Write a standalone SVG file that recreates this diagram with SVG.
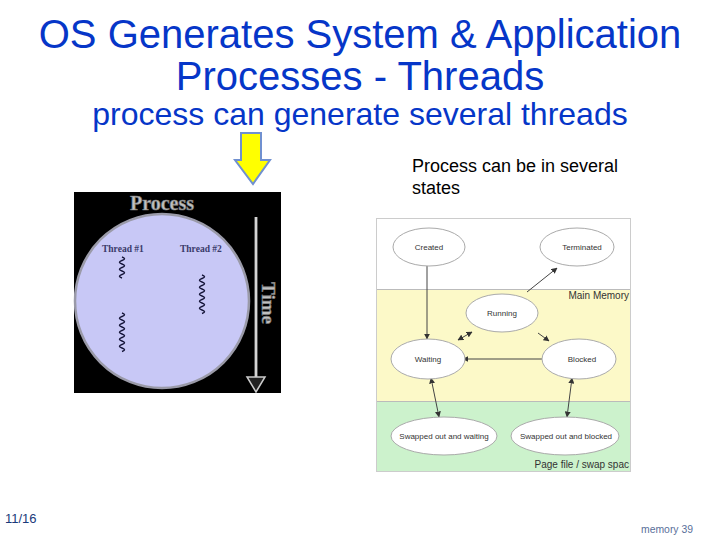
<svg xmlns="http://www.w3.org/2000/svg" width="720" height="540" viewBox="0 0 720 540">
<style>
.title{font-family:"Liberation Sans",Arial,sans-serif;fill:#0636c8;text-anchor:middle}
.note{font-family:"Liberation Sans",Arial,sans-serif;fill:#000;font-size:18px}
.st{font-family:"Liberation Sans",Arial,sans-serif;font-size:8px;fill:#333;text-anchor:middle}
.zone{font-family:"Liberation Sans",Arial,sans-serif;font-size:10px;fill:#333;text-anchor:end}
.ell{fill:#fff;stroke:#aaa;stroke-width:1}
.con{stroke:#444;stroke-width:1;fill:none}
.thr{font-family:"Liberation Serif","Times New Roman",serif;font-weight:bold;font-size:9.5px;fill:#3a3a6a}
.sq{fill:none;stroke:#141438;stroke-width:1.5}
</style>
<defs>
<marker id="ah" viewBox="0 0 10 10" refX="9" refY="5" markerWidth="6" markerHeight="6" orient="auto-start-reverse" markerUnits="userSpaceOnUse">
<path d="M0,0 L10,5 L0,10 z" fill="#333"/>
</marker>
</defs>
<rect width="720" height="540" fill="#fff"/>
<g id="title">
<text class="title" x="360" y="48" font-size="40">OS Generates System &amp; Application</text>
<text class="title" x="360" y="90" font-size="40">Processes - Threads</text>
<text class="title" x="360" y="125" font-size="32">process can generate several threads</text>
</g>
<g id="yellow-arrow">
<path d="M241,133 H261 V160 H270 L253,184 L235,160 H241 Z" fill="#ffff00" stroke="#7090d0" stroke-width="2" stroke-linejoin="miter"/>
</g>
<g id="process-picture">
<rect x="74" y="192" width="207" height="201" fill="#000"/>
<circle cx="162" cy="301" r="87" fill="#c8c8f6" stroke="#9a9aa8" stroke-width="2.5"/>
<text x="162" y="210" font-family="'Liberation Serif','Times New Roman',serif" font-weight="bold" font-size="20" fill="#c0c0c0" stroke="#777" stroke-width="0.6" text-anchor="middle">Process</text>
<text class="thr" x="102" y="252">Thread #1</text>
<text class="thr" x="180" y="252">Thread #2</text>
<path class="sq" d="M122,257 q5,1.75 0,3.5 t0,3.5 t0,3.5 t0,3.5 t0,3.5 t0,3.5"/>
<path class="sq" d="M122,313 q5,1.75 0,3.5 t0,3.5 t0,3.5 t0,3.5 t0,3.5 t0,3.5 t0,3.5 t0,3.5 t0,3.5 t0,3.5 t0,3.5"/>
<path class="sq" d="M202,275 q5,1.75 0,3.5 t0,3.5 t0,3.5 t0,3.5 t0,3.5 t0,3.5 t0,3.5 t0,3.5 t0,3.5 t0,3.5 t0,3.5"/>
<line x1="256" y1="217" x2="256" y2="378" stroke="#aaa" stroke-width="3"/>
<line x1="256" y1="217" x2="256" y2="378" stroke="#fff" stroke-width="1"/>
<path d="M247,377 H265 L256,392 Z" fill="#222" stroke="#ccc" stroke-width="1.5"/>
<text transform="translate(262,303) rotate(90)" font-family="'Liberation Serif','Times New Roman',serif" font-weight="bold" font-size="19" fill="#c0c0c0" stroke="#777" stroke-width="0.6" text-anchor="middle">Time</text>
</g>
<g id="note">
<text class="note" x="412" y="172">Process can be in several</text>
<text class="note" x="412" y="194">states</text>
</g>
<g id="state-diagram">
<rect x="376.5" y="218.5" width="254" height="253" fill="#fff" stroke="#ccc"/>
<rect x="377" y="289" width="253" height="112" fill="#fcf9c8"/>
<rect x="377" y="401" width="253" height="70" fill="#ccf2cc"/>
<line x1="377" y1="289.5" x2="630" y2="289.5" stroke="#bbb"/>
<line x1="377" y1="401.5" x2="630" y2="401.5" stroke="#bbb"/>
<text class="zone" x="629" y="299">Main Memory</text>
<text class="zone" x="629" y="468">Page file / swap spac</text>
</g>
<g id="connectors">
<line class="con" x1="427" y1="266" x2="427" y2="339" stroke="#666" stroke-width="1.5" marker-end="url(#ah)"/>
<line class="con" x1="527" y1="292" x2="557" y2="268" marker-end="url(#ah)"/>
<line class="con" x1="472" y1="332" x2="458" y2="340" marker-start="url(#ah)" marker-end="url(#ah)"/>
<line class="con" x1="538" y1="333" x2="549" y2="341" marker-end="url(#ah)"/>
<line class="con" x1="542" y1="359" x2="463" y2="359" marker-end="url(#ah)"/>
<line class="con" x1="431" y1="378" x2="439" y2="417" marker-start="url(#ah)" marker-end="url(#ah)"/>
<line class="con" x1="572" y1="378" x2="567" y2="417" marker-start="url(#ah)" marker-end="url(#ah)"/>
</g>
<g id="created"><ellipse class="ell" cx="429" cy="247" rx="36" ry="19"/><text class="st" x="429" y="250">Created</text></g>
<g id="terminated"><ellipse class="ell" cx="577" cy="247" rx="37" ry="19"/><text class="st" x="582" y="250">Terminated</text></g>
<g id="running"><ellipse class="ell" cx="502" cy="313" rx="36" ry="19"/><text class="st" x="502" y="316">Running</text></g>
<g id="waiting"><ellipse class="ell" cx="428" cy="359" rx="37" ry="20"/><text class="st" x="428" y="362">Waiting</text></g>
<g id="blocked"><ellipse class="ell" cx="579" cy="359" rx="37" ry="20"/><text class="st" x="582" y="362">Blocked</text></g>
<g id="swapped-waiting"><ellipse class="ell" cx="444" cy="436" rx="53" ry="19"/><text class="st" x="444" y="439">Swapped out and waiting</text></g>
<g id="swapped-blocked"><ellipse class="ell" cx="565" cy="436" rx="54" ry="19"/><text class="st" x="566" y="439">Swapped out and blocked</text></g>
<g id="footer">
<text x="5" y="523" font-family="'Liberation Sans',Arial,sans-serif" font-size="13" fill="#1a3a7a">11/16</text>
<text x="693" y="533" font-family="'Liberation Sans',Arial,sans-serif" font-size="10.4" fill="#5a6f9a" text-anchor="end">memory 39</text>
</g>
</svg>
